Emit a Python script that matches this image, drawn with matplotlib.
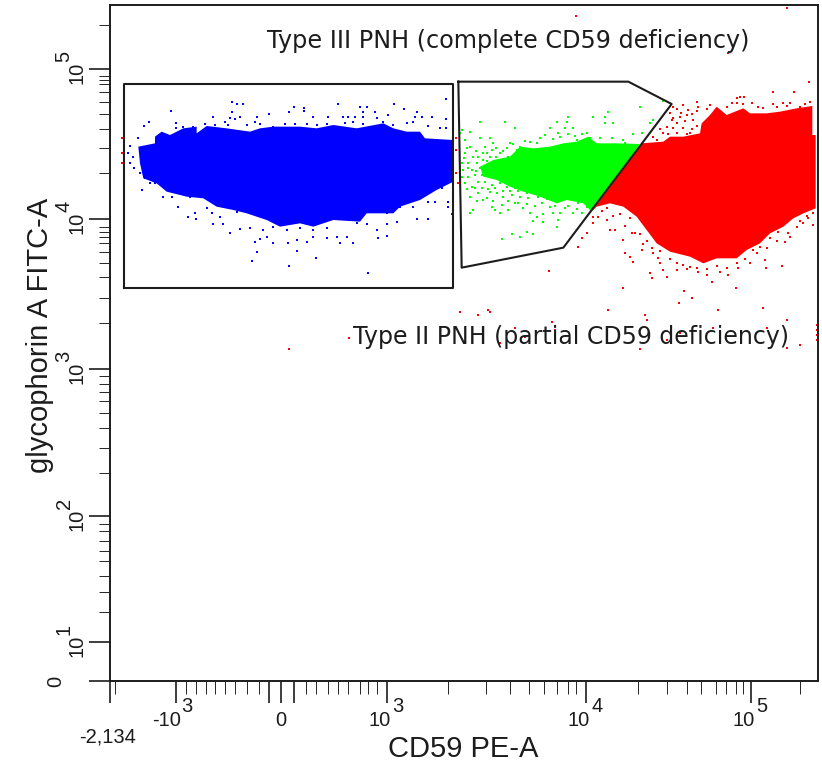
import matplotlib
matplotlib.use("Agg")
import matplotlib.pyplot as plt

# Display channels of the biexponential axes (3 channels per screen pixel)
x_major = [0, 198, 477, 513, 552, 831, 1428, 1923]
x_minor = [14, 228, 258, 287, 315, 345, 375, 410, 447, 587, 617, 653, 683, 713, 749, 774, 801,
           1014, 1127, 1200, 1257, 1302, 1340, 1374, 1398, 1583, 1671, 1730, 1773, 1817, 1847,
           1877, 1899, 2069]
y_major = [1, 117, 495, 936, 1386, 1836]
y_minor = [207, 267, 315, 360, 390, 420, 450, 471, 624, 699, 759, 804, 840, 867, 891, 915,
           1074, 1149, 1212, 1254, 1287, 1314, 1332, 1347, 1362, 1524, 1599, 1656, 1701, 1737,
           1767, 1790, 1803, 1815, 1968]

# Tick labels: channel, base, exponent
x_labels = [(198, "-10", "3"), (513, "0", ""), (831, "10", "3"), (1428, "10", "4"), (1923, "10", "5")]
y_labels = [(117, "10", "1"), (495, "10", "2"), (936, "10", "3"), (1386, "10", "4"), (1836, "10", "5")]

# Gates
gate_type3_x = [42, 1030, 1030, 42, 42]
gate_type3_y = [1178, 1178, 1790, 1790, 1178]
gate_type2_x = [1045, 1555, 1685, 1360, 1055, 1045]
gate_type2_y = [1798, 1798, 1731, 1300, 1240, 1798]

# Solid parts of the three populations
blue_body = [(135, 1613), (135, 1633), (155, 1648), (180, 1638), (220, 1658), (260, 1663), (260, 1643),
             (290, 1665), (350, 1658), (420, 1648), (450, 1658), (490, 1663), (570, 1663), (620, 1658),
             (670, 1668), (740, 1658), (820, 1673), (850, 1658), (890, 1648), (930, 1648), (945, 1628),
             (1030, 1623), (1030, 1498), (980, 1473), (930, 1443), (870, 1423), (850, 1403), (770, 1403),
             (750, 1378), (670, 1383), (610, 1363), (570, 1373), (510, 1363), (470, 1383), (410, 1403),
             (370, 1413), (320, 1423), (280, 1448), (230, 1453), (170, 1468), (140, 1493), (100, 1508),
             (90, 1553), (85, 1603)]
green_body = [(1200, 1573), (1230, 1603), (1270, 1598), (1320, 1603), (1360, 1613), (1400, 1618),
              (1435, 1633), (1460, 1613), (1520, 1613), (1590, 1611), (1445, 1408), (1420, 1433),
              (1370, 1443), (1340, 1433), (1290, 1453), (1240, 1468), (1200, 1483), (1160, 1503),
              (1120, 1513), (1110, 1543), (1150, 1563)]
red_body = [(1595, 1613), (1660, 1618), (1680, 1633), (1720, 1633), (1770, 1643), (1775, 1673),
            (1800, 1698), (1820, 1723), (1850, 1698), (1900, 1718), (1920, 1703), (1970, 1703),
            (2010, 1708), (2060, 1718), (2107, 1725), (2107, 1638), (2117, 1638), (2117, 1418),
            (2080, 1403), (2050, 1388), (2020, 1363), (1980, 1343), (1950, 1313), (1910, 1293),
            (1880, 1268), (1820, 1268), (1780, 1253), (1740, 1273), (1680, 1288), (1640, 1313),
            (1610, 1353), (1580, 1393), (1540, 1423), (1500, 1433), (1460, 1423), (1445, 1408)]

# Single events outside the solid parts
blue_events = [(367, 1738), (382, 1731), (398, 1731), (183, 1710), (367, 1708), (552, 1723), (582, 1718),
               (582, 1710), (684, 1731), (750, 1723), (772, 1723), (758, 1708), (795, 1708), (853, 1731),
               (883, 1716), (920, 1708), (1008, 1746), (310, 1693), (390, 1693), (360, 1688), (375, 1685),
               (440, 1693), (478, 1701), (538, 1708), (610, 1693), (655, 1693), (700, 1693), (715, 1693),
               (735, 1693), (760, 1693), (800, 1688), (835, 1698), (915, 1693), (935, 1693), (965, 1693),
               (1008, 1686), (117, 1678), (103, 1665), (198, 1673), (198, 1658), (220, 1663), (250, 1663),
               (285, 1670), (315, 1668), (345, 1678), (355, 1668), (410, 1668), (435, 1678), (450, 1671),
               (490, 1663), (525, 1671), (555, 1671), (590, 1671), (620, 1668), (650, 1671), (705, 1673),
               (730, 1678), (760, 1671), (820, 1678), (850, 1668), (890, 1673), (910, 1678), (955, 1665),
               (990, 1658), (1008, 1658), (83, 1628), (60, 1606), (55, 1583), (70, 1573), (60, 1553),
               (73, 1538), (90, 1523), (105, 1508), (120, 1495), (95, 1473), (135, 1493), (170, 1488),
               (160, 1453), (185, 1453), (210, 1473), (205, 1423), (240, 1451), (270, 1451), (287, 1451),
               (235, 1393), (255, 1403), (258, 1385), (290, 1418), (305, 1403), (310, 1371), (335, 1438),
               (330, 1393), (340, 1371), (365, 1423), (360, 1343), (390, 1355), (420, 1358), (380, 1408),
               (410, 1413), (445, 1423), (460, 1353), (490, 1363), (530, 1353), (570, 1358), (610, 1353),
               (650, 1358), (690, 1408), (740, 1373), (770, 1371), (800, 1353), (830, 1371), (830, 1335),
               (805, 1328), (830, 1403), (780, 1408), (870, 1423), (910, 1423), (860, 1378), (920, 1385),
               (955, 1385), (955, 1438), (975, 1438), (1015, 1438), (1025, 1400), (1015, 1423), (970, 1488),
               (995, 1478), (1010, 1513), (435, 1318), (450, 1325), (470, 1331), (490, 1313), (535, 1313),
               (560, 1323), (590, 1318), (610, 1331), (650, 1328), (680, 1333), (690, 1313), (710, 1331),
               (730, 1313), (442, 1288), (427, 1260), (560, 1290), (618, 1268), (537, 1245), (773, 1223)]
green_events = [(1110, 1678), (1185, 1678), (1215, 1658), (1055, 1653), (1080, 1648), (1050, 1643),
                (1340, 1678), (1375, 1693), (1370, 1678), (1365, 1658), (1390, 1658), (1450, 1693),
                (1485, 1693), (1495, 1708), (1590, 1723), (1510, 1673), (1485, 1673), (1320, 1658),
                (1305, 1638), (1350, 1633), (1430, 1643), (1540, 1623), (1595, 1643), (1630, 1683),
                (1620, 1673), (1660, 1740), (1400, 1623), (1440, 1628), (1065, 1623), (1110, 1628),
                (1140, 1628), (1080, 1603), (1125, 1603), (1150, 1613), (1200, 1613), (1230, 1603),
                (1260, 1618), (1065, 1583), (1090, 1573), (1120, 1583), (1145, 1593), (1170, 1583),
                (1190, 1598), (1220, 1593), (1055, 1553), (1075, 1553), (1100, 1553), (1120, 1563),
                (1140, 1573), (1170, 1563), (1185, 1553), (1060, 1533), (1085, 1533), (1110, 1538),
                (1130, 1543), (1150, 1533), (1170, 1533), (1055, 1513), (1075, 1513), (1095, 1518),
                (1115, 1518), (1135, 1523), (1160, 1508), (1185, 1518), (1065, 1493), (1085, 1483),
                (1105, 1498), (1125, 1498), (1145, 1488), (1170, 1493), (1190, 1483), (1215, 1478),
                (1240, 1488), (1080, 1453), (1105, 1463), (1120, 1443), (1140, 1468), (1160, 1463),
                (1180, 1453), (1205, 1458), (1230, 1453), (1255, 1448), (1285, 1453), (1090, 1413),
                (1080, 1403), (1145, 1423), (1155, 1413), (1175, 1428), (1195, 1413), (1215, 1433),
                (1240, 1418), (1260, 1403), (1280, 1393), (1300, 1378), (1320, 1423), (1330, 1403),
                (1345, 1383), (1340, 1363), (1365, 1418), (1390, 1403), (1415, 1403), (1430, 1423),
                (1405, 1433), (1170, 1403), (1177, 1326), (1207, 1340), (1230, 1333), (1252, 1348),
                (1270, 1340), (1072, 1600), (1098, 1590), (1130, 1585), (1158, 1600), (1180, 1590),
                (1210, 1612), (1245, 1620), (1062, 1570), (1105, 1572), (1132, 1560), (1158, 1572),
                (1195, 1572), (1075, 1540), (1098, 1530), (1125, 1530), (1140, 1515), (1070, 1475),
                (1095, 1478), (1115, 1480), (1135, 1475), (1155, 1480), (1180, 1470), (1200, 1470),
                (1225, 1470), (1250, 1465), (1275, 1465), (1100, 1440), (1130, 1450), (1150, 1440),
                (1195, 1440), (1225, 1435), (1250, 1430), (1275, 1425), (1295, 1435), (1310, 1445),
                (1335, 1425), (1350, 1405), (1375, 1425), (1400, 1415), (1270, 1380), (1300, 1400),
                (1290, 1630), (1330, 1625), (1280, 1615), (1375, 1640), (1415, 1640), (1470, 1630),
                (1505, 1630), (1545, 1615), (1570, 1640), (1395, 1635), (1345, 1645)]
red_events = [(1398, 1996), (2032, 2018), (1855, 1883), (2098, 1798), (1988, 1768), (2053, 1768), (1903, 1753),
              (1880, 1748), (1890, 1753), (1760, 1738), (1690, 1723), (1720, 1728), (1735, 1713), (1765, 1723),
              (1800, 1728), (1850, 1723), (1880, 1733), (1945, 1723), (1990, 1731), (2020, 1733), (2040, 1733),
              (2070, 1723), (2100, 1738), (1670, 1663), (1685, 1683), (1710, 1693), (1730, 1698), (1750, 1683),
              (1720, 1658), (1740, 1643), (1775, 1663), (1660, 1643), (1630, 1633), (1700, 1643), (1680, 1703),
              (1640, 1623), (2085, 1415), (2110, 1403), (2095, 1388), (2110, 1368), (2080, 1373), (2060, 1363),
              (2040, 1333), (2025, 1318), (2005, 1348), (1980, 1328), (1950, 1303), (1930, 1293), (1965, 1263),
              (1967, 1238), (2017, 1245), (1920, 1253), (1880, 1253), (1855, 1218), (1830, 1228), (1805, 1198),
              (1790, 1218), (1765, 1228), (1740, 1243), (1720, 1248), (1700, 1233), (1670, 1213), (1660, 1233),
              (1620, 1223), (1625, 1208), (1650, 1253), (1630, 1283), (1595, 1293), (1568, 1258), (1545, 1283),
              (1560, 1273), (1575, 1343), (1540, 1323), (1515, 1353), (1490, 1383), (1500, 1353), (1465, 1393),
              (1450, 1373), (1430, 1343), (1405, 1303), (1415, 1328), (1490, 1418), (1450, 1393), (1317, 1230),
              (1538, 1178), (1723, 1171), (1745, 1148), (1708, 1135), (1877, 1178), (1958, 1120), (1825, 1113),
              (1495, 1113), (1605, 1098), (1610, 1083), (1133, 1113), (1105, 1098), (2032, 1083), (2120, 1068),
              (2120, 1053), (2120, 1038), (2120, 1023), (1325, 1078), (1215, 1058), (1170, 1015), (1245, 1033),
              (1335, 1053), (1590, 995), (1670, 1023), (1810, 1058), (1970, 1058), (2070, 1008), (2030, 998),
              (1710, 1043), (537, 996), (716, 1029), (1050, 1107), (1140, 1107), (37, 1628), (37, 1583),
              (37, 1553), (1038, 1628), (1038, 1593), (1038, 1523), (1045, 1495),
              (1700, 1715), (1712, 1705), (1745, 1700), (1760, 1710), (1790, 1715), (1690, 1690), (1700, 1675),
              (1725, 1680), (1760, 1665), (1745, 1655), (1690, 1660), (1650, 1655), (1675, 1640), (1730, 1640),
              (1865, 1735), (1900, 1730), (1925, 1735), (1960, 1720), (2000, 1722), (2030, 1725), (2085, 1730),
              (1560, 1390), (1530, 1400), (1510, 1395), (1475, 1410), (1545, 1365), (1565, 1345), (1590, 1340),
              (1600, 1310), (1625, 1300), (1645, 1270), (1680, 1265), (1700, 1255), (1730, 1235), (1760, 1240),
              (1790, 1235), (1820, 1245), (1850, 1240), (1885, 1240), (1905, 1265), (1940, 1285), (1970, 1300),
              (2000, 1320), (2035, 1345), (2070, 1380), (1650, 1290), (1610, 1320), (2090, 1395)]

ink = "#1c1c1c"
plt.rcParams['font.family'] = ['Liberation Sans', 'DejaVu Sans']

fig = plt.figure(figsize=(8.22, 7.62), dpi=100)
ax = fig.add_axes([110 / 822, 1 - 681 / 762, 708 / 822, 675.5 / 762])
ax.set_xlim(0, 2124)
ax.set_ylim(0, 2026.5)

# Populations
for body, events, color, size in [(blue_body, blue_events, "#0000ff", 4.5),
                                  (green_body, green_events, "#00ff00", 4.0),
                                  (red_body, red_events, "#ff0000", 3.0)]:
    ax.fill([p[0] for p in body], [p[1] for p in body], color=color, lw=0)
    ax.scatter([p[0] for p in events], [p[1] for p in events], s=size, marker="s",
               color=color, linewidths=0, clip_on=True)

ax.plot(gate_type3_x, gate_type3_y, color=ink, lw=1.5)
ax.plot(gate_type2_x, gate_type2_y, color=ink, lw=1.5)

ax.text(1194, 1920, "Type III PNH (complete CD59 deficiency)", fontsize=17.2, family="DejaVu Sans",
        color=ink, ha="center", va="center")
ax.text(1383, 1032, "Type II PNH (partial CD59 deficiency)", fontsize=17, family="DejaVu Sans",
        color=ink, ha="center", va="center")

# Axes
for side in ["left", "bottom", "right", "top"]:
    ax.spines[side].set_linewidth(1.4)
    ax.spines[side].set_color(ink)
ax.set_xticks(x_major)
ax.set_xticks(x_minor, minor=True)
ax.set_yticks(y_major)
ax.set_yticks(y_minor, minor=True)
ax.tick_params(labelbottom=False, labelleft=False, color=ink, width=1.2)
ax.tick_params(axis="x", which="major", length=16)
ax.tick_params(axis="x", which="minor", length=9.5)
ax.tick_params(axis="y", which="major", length=15)
ax.tick_params(axis="y", which="minor", length=8)

# Tick labels are drawn by hand because the exponents sit far from their base
label_size = 14.5
for chan, base, power in x_labels:
    shift = -9 if base == "-10" else (-7 if power else 0)
    ax.annotate(base, xy=(chan, 0), xycoords=("data", "axes fraction"), xytext=(shift, -40),
                textcoords="offset pixels", ha="center", va="center", fontsize=label_size, color=ink)
    if power:
        ax.annotate(power, xy=(chan, 0), xycoords=("data", "axes fraction"), xytext=(11, -26),
                    textcoords="offset pixels", ha="center", va="center", fontsize=label_size, color=ink)
ax.annotate("-2,134", xy=(0, 0), xycoords="data", xytext=(-2, -56), textcoords="offset pixels",
            ha="center", va="center", fontsize=label_size, color=ink)
for chan, base, power in y_labels:
    ax.annotate(base, xy=(0, chan), xycoords=("axes fraction", "data"), xytext=(-33, -4),
                textcoords="offset pixels", ha="center", va="center", rotation=90,
                fontsize=label_size, color=ink)
    ax.annotate(power, xy=(0, chan), xycoords=("axes fraction", "data"), xytext=(-46, 13),
                textcoords="offset pixels", ha="center", va="center", rotation=90,
                fontsize=label_size, color=ink)
ax.annotate("0", xy=(0, 0), xycoords="data", xytext=(-54, 0), textcoords="offset pixels",
            ha="center", va="center", rotation=90, fontsize=label_size, color=ink)

ax.set_xlabel("CD59 PE-A", fontsize=21, color=ink, va="center")
ax.xaxis.set_label_coords(0.4986, -68 / 675.5)
ax.set_ylabel("glycophorin A FITC-A", fontsize=21, color=ink, va="center")
ax.yaxis.set_label_coords(-70 / 708, (681 - 335) / 675.5)

plt.savefig("out.png", dpi=100)
